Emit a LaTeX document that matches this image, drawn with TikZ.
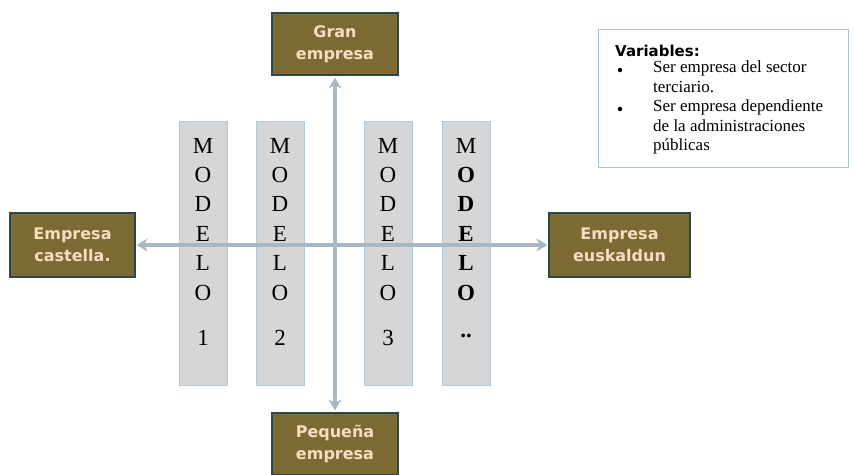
\documentclass[tikz,border=0pt]{standalone}
\usepackage{fontspec}
\setmainfont{Liberation Serif}
\newfontfamily\boxfont{DejaVu Sans}
\usetikzlibrary{arrows.meta}
\definecolor{boxfill}{HTML}{7B6A33}
\definecolor{boxedge}{HTML}{2E4848}
\definecolor{boxtext}{HTML}{F6DDBF}
\definecolor{axiscol}{HTML}{A7B8C4}
\definecolor{colfill}{HTML}{D4D6D8}
\definecolor{coledge}{HTML}{B5CAD6}
\definecolor{varedge}{HTML}{A8C3CF}
\tikzset{
  catbox/.style={draw=boxedge, line width=1.2pt, fill=boxfill, text=boxtext,
    font=\boxfont\bfseries\fontsize{16}{22}\selectfont, align=center,
    inner sep=0pt, minimum height=62pt},
  modcol/.style={draw=coledge, line width=0.8pt, fill=colfill, minimum width=48pt,
    minimum height=264pt, inner sep=0pt},
  letter/.style={font=\fontsize{23}{23}\selectfont, anchor=base, inner sep=0pt},
  axisline/.style={draw=axiscol, line width=3.5pt,
    {Stealth[length=11pt,width=13pt]}-{Stealth[length=11pt,width=13pt]}},
  vartext/.style={font=\fontsize{17}{19.5}\selectfont, anchor=north west, inner sep=0pt, align=left},
  bulletdot/.style={circle, fill=black, inner sep=0pt, minimum size=4.5pt}
}
\begin{document}
\begin{tikzpicture}[x=1pt,y=-1pt]
\useasboundingbox[fill=white] (0,0) rectangle (854,474);

% model columns
\foreach \i/\x in {1/203,2/280,3/388,4/466}{
  \node[modcol] (col\i) at (\x,253) {};
}

% category boxes
\node[catbox, minimum width=126pt] (gran) at (335,44) {Gran\\empresa};
\node[catbox, minimum width=125pt, minimum height=64pt] (cast) at (72.5,245) {Empresa\\castella.};
\node[catbox, minimum width=141pt, minimum height=64pt] (eusk) at (619.5,245) {Empresa\\euskaldun};
\node[catbox, minimum width=126pt] (peq) at (335,444) {Pequeña\\empresa};

% axes
\draw[axisline, shorten <=2pt, shorten >=2pt] (gran.south) -- (peq.north);
\draw[axisline, shorten <=1pt, shorten >=1pt] (cast.east) -- (eusk.west);

% letters
\foreach \i/\x in {1/203,2/280,3/388}{
  \foreach \l [count=\k from 0] in {M,O,D,E,L,O}{
    \node[letter] (l\i\k) at (\x,{153+29.4*\k}) {\l};
  }
  \node[letter] (n\i) at (\x,345) {\i};
}
\node[letter] (l40) at (466,153) {M};
\foreach \l [count=\k from 1] in {O,D,E,L,O}{
  \node[letter, font=\fontsize{23}{23}\selectfont\bfseries] (l4\k) at (466,{153+29.4*\k}) {\l};
}
\node[letter, font=\fontsize{23}{23}\selectfont\bfseries] (n4) at (466,337) {..};

% variables box
\node[draw=varedge, line width=1pt, fill=white, minimum width=250pt, minimum height=138pt,
  inner sep=0pt] (vars) at (723,98) {};
\node[font=\boxfont\bfseries\fontsize{15}{15}\selectfont, anchor=base west, inner sep=0pt]
  (vtitle) at (615,56) {Variables:};
\node[bulletdot] (b1) at (620,70) {};
\node[vartext] (t1) at (653,61) {Ser empresa del sector\\terciario.};
\node[bulletdot] (b2) at (620,109) {};
\node[vartext] (t2) at (653,100) {Ser empresa dependiente\\de la administraciones\\públicas};
\end{tikzpicture}
\end{document}
